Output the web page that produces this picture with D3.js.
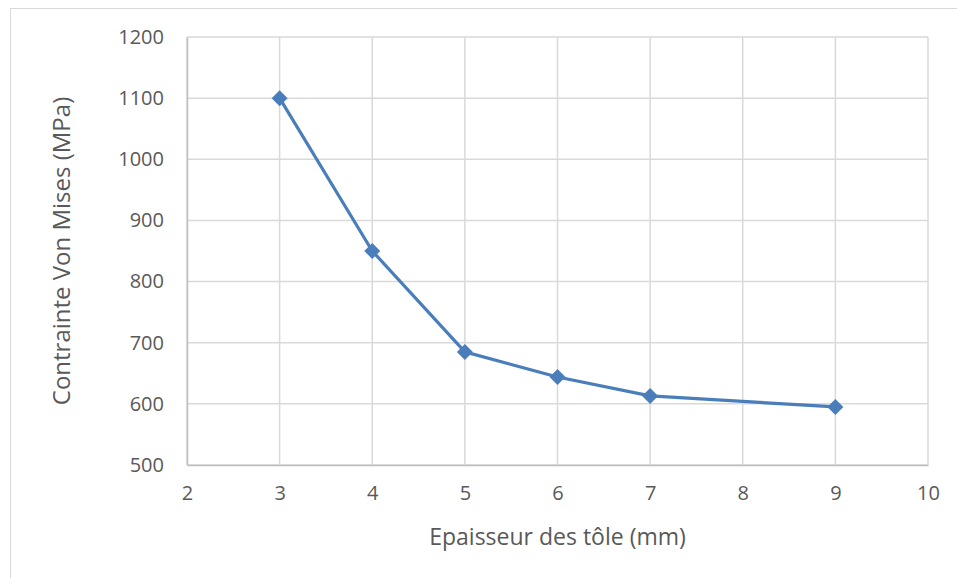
<!DOCTYPE html>
<html>
<head>
<meta charset="utf-8">
<script src="https://cdn.jsdelivr.net/npm/d3@7"></script>
<style>
  body { margin: 0; background: #fff; }
  text { font-family: "Open Sans", "Noto Sans", sans-serif; fill: #595959; }
</style>
</head>
<body>
<div id="chart"></div>
<script>
// data
var thickness = [3, 4, 5, 6, 7, 9];
var stress = [1100, 850, 685, 644, 613, 595];
var xTicks = [2, 3, 4, 5, 6, 7, 8, 9, 10];
var yTicks = [500, 600, 700, 800, 900, 1000, 1100, 1200];

var width = 957, height = 578;
var plot = { left: 187, top: 37, right: 928, bottom: 465 };

var svg = d3.select('#chart').append('svg')
    .attr('width', width)
    .attr('height', height);

// chart frame
svg.append('rect')
    .attr('x', 10.5).attr('y', 8.5)
    .attr('width', 960).attr('height', 600)
    .attr('fill', 'none')
    .attr('stroke', '#d9d9d9')
    .attr('stroke-width', 1);

var x = d3.scaleLinear().domain([2, 10]).range([plot.left, plot.right]);
var y = d3.scaleLinear().domain([500, 1200]).range([plot.bottom, plot.top]);

// grid lines
svg.append('g').selectAll('line.v')
    .data(xTicks)
    .enter().append('line')
    .attr('x1', function(d) { return x(d); })
    .attr('x2', function(d) { return x(d); })
    .attr('y1', plot.top).attr('y2', plot.bottom)
    .attr('stroke', '#d9d9d9').attr('stroke-width', 1.5);

svg.append('g').selectAll('line.h')
    .data(yTicks)
    .enter().append('line')
    .attr('x1', plot.left).attr('x2', plot.right)
    .attr('y1', function(d) { return y(d); })
    .attr('y2', function(d) { return y(d); })
    .attr('stroke', '#d9d9d9').attr('stroke-width', 1.5);

// axes
var xAxis = svg.append('g')
    .attr('transform', `translate(0, ${plot.bottom})`)
    .call(d3.axisBottom(x).tickValues(xTicks).tickFormat(d3.format('d')).tickSize(0).tickPadding(21));
var yAxis = svg.append('g')
    .attr('transform', `translate(${plot.left}, 0)`)
    .call(d3.axisLeft(y).tickValues(yTicks).tickFormat(d3.format('d')).tickSize(0).tickPadding(23));

[xAxis, yAxis].forEach(function(a) {
    a.select('.domain').attr('stroke', '#bfbfbf').attr('stroke-width', 1.5);
    a.selectAll('text').style('font-size', '20px').attr('fill', '#595959');
});

// series
var pts = thickness.map(function(t, i) { return { x: t, y: stress[i] }; });

svg.append('path')
    .datum(pts)
    .attr('fill', 'none')
    .attr('stroke', '#4a7ebb')
    .attr('stroke-width', 3.2)
    .attr('stroke-linejoin', 'round')
    .attr('d', d3.line().x(function(d) { return x(d.x); }).y(function(d) { return y(d.y); }));

svg.append('g').selectAll('path.m')
    .data(pts)
    .enter().append('path')
    .attr('d', 'M0,-8L8,0L0,8L-8,0Z')
    .attr('transform', function(d) { return `translate(${x(d.x)}, ${y(d.y)})`; })
    .attr('fill', '#4a7ebb');

// axis titles
svg.append('text')
    .attr('x', (plot.left + plot.right) / 2)
    .attr('y', 545)
    .attr('text-anchor', 'middle')
    .style('font-size', '23px')
    .text('Epaisseur des tôle (mm)');

svg.append('text')
    .attr('transform', `translate(70, ${(plot.top + plot.bottom) / 2}) rotate(-90)`)
    .attr('text-anchor', 'middle')
    .style('font-size', '24px')
    .text('Contrainte Von Mises (MPa)');
</script>
</body>
</html>
